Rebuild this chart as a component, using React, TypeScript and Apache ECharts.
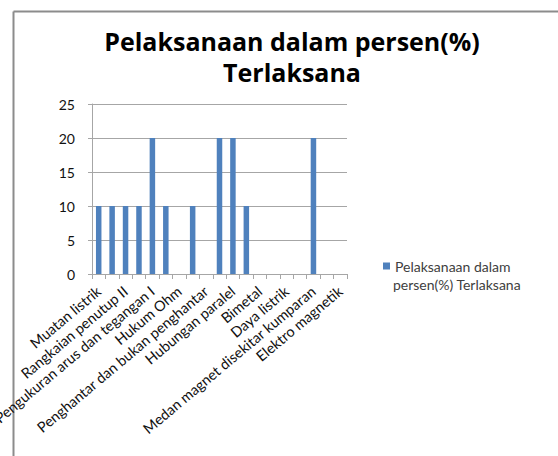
import React, { useEffect, useRef } from "react";
import * as echarts from "echarts";

const categories = [
  "Muatan listrik",
  "Rangkaian penutup I",
  "Rangkaian penutup II",
  "Pengukuran arus dan tegangan",
  "Pengukuran arus dan tegangan I",
  "Pengukuran arus dan tegangan II",
  "Hukum Ohm",
  "Hambatan jenis",
  "Penghantar dan bukan penghantar",
  "Hubungan seri",
  "Hubungan paralel",
  "Hukum Kirchhoff",
  "Bimetal",
  "Energi listrik",
  "Daya listrik",
  "Kemagnetan",
  "Medan magnet disekitar kumparan",
  "Induksi magnet",
  "Elektro magnetik",
];
const values = [10, 10, 10, 10, 20, 10, 0, 10, 0, 20, 20, 10, 0, 0, 0, 0, 20, 0, 0];
const yTicks = { min: 0, max: 25, interval: 5 };
const seriesName = "Pelaksanaan dalam persen(%) Terlaksana";
const legendLines = ["Pelaksanaan dalam", "persen(%) Terlaksana"];
const titleText = "Pelaksanaan dalam persen(%)\nTerlaksana";

export default function App() {
  const ref = useRef<HTMLDivElement>(null);
  useEffect(() => {
    if (!ref.current) return;
    const chart = echarts.init(ref.current, null, { renderer: "svg" });
    const font = "Lato, 'Open Sans', sans-serif";
    const gridColor = "#a6a6a6";
    chart.setOption({
      animation: false,
      backgroundColor: "#fff",
      textStyle: { fontFamily: font },
      title: {
        text: titleText,
        left: 287,
        top: 20,
        textAlign: "center",
        textStyle: {
          fontFamily: "'Open Sans', sans-serif",
          fontWeight: "bold",
          fontSize: 25,
          lineHeight: 31,
          color: "#000",
        },
      },
      legend: {
        show: true,
        left: 378,
        top: 254,
        orient: "vertical",
        itemWidth: 7,
        itemHeight: 7,
        icon: "rect",
        formatter: () => legendLines[0],
        textStyle: {
          fontFamily: font,
          fontSize: 14,
          color: "#404040",
        },
      },
      grid: {
        left: 92,
        right: 211,
        top: 104,
        bottom: 182,
        containLabel: false,
        outerBoundsMode: "none",
      },
      xAxis: {
        type: "category",
        data: categories,
        axisLine: { lineStyle: { color: gridColor, width: 1 } },
        axisTick: { show: true, interval: 0, length: 5, lineStyle: { color: gridColor } },
        axisLabel: {
          interval: 1,
          rotate: 40,
          margin: 15,
          fontSize: 14.5,
          fontFamily: font,
          color: "#111",
        },
      },
      yAxis: {
        type: "value",
        min: yTicks.min,
        max: yTicks.max,
        interval: yTicks.interval,
        axisLine: { show: true, lineStyle: { color: gridColor, width: 1 } },
        axisTick: { show: true, length: 4, lineStyle: { color: gridColor } },
        splitLine: { show: true, lineStyle: { color: gridColor, width: 1 } },
        axisLabel: { fontSize: 14, fontFamily: font, color: "#111", margin: 17 },
      },
      series: [
        {
          name: seriesName,
          type: "bar",
          data: values,
          barWidth: 5.5,
          itemStyle: { color: "#4F81BD" },
        },
      ],
      graphic: [
        {
          type: "text",
          left: 393,
          top: 277,
          style: {
            text: legendLines[1],
            font: "14px Lato, 'Open Sans', sans-serif",
            fill: "#404040",
          },
        },
        {
          type: "line",
          shape: { x1: 13.5, y1: 11.5, x2: 558, y2: 11.5 },
          style: { stroke: "#8c8c8c", lineWidth: 2 },
        },
        {
          type: "line",
          shape: { x1: 13.5, y1: 11.5, x2: 13.5, y2: 456 },
          style: { stroke: "#8c8c8c", lineWidth: 2 },
        },
      ],
    });
    return () => chart.dispose();
  }, []);
  return (
    <div
      ref={ref}
      style={{ position: "fixed", left: 0, top: 0, width: 558, height: 456 }}
    />
  );
}
